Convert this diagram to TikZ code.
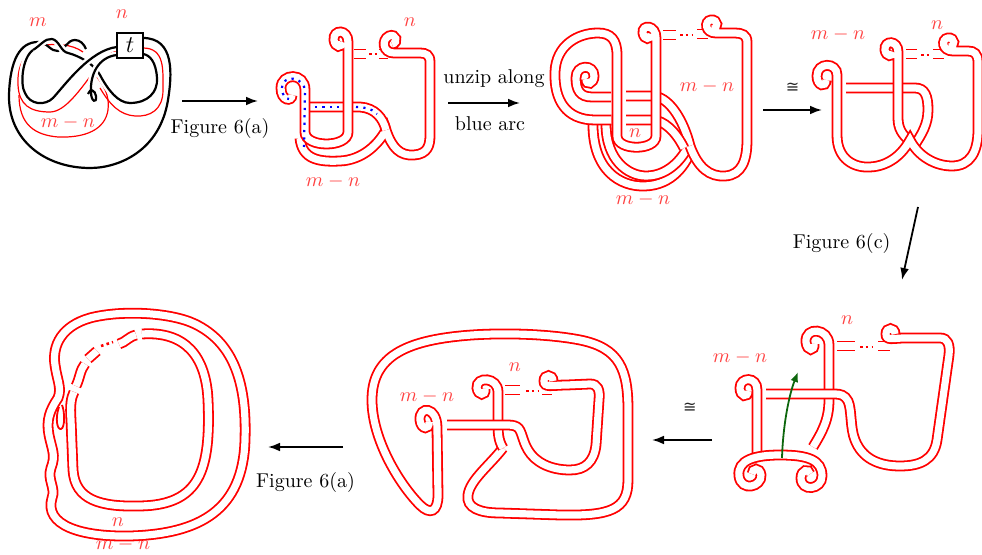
\documentclass[tikz,border=0pt]{standalone}
\usepackage{fontspec}
\usetikzlibrary{arrows.meta,positioning}
\newfontfamily\isofont{DejaVu Sans}
\definecolor{labred}{rgb}{1,0.25,0.25}
\definecolor{arcgreen}{rgb}{0.05,0.4,0.05}
\begin{document}
\begin{tikzpicture}[x=0.5pt, y=-0.5pt,
			band/.style = {draw=red, line width=0.9pt, double=white, double distance=3.6pt},
			strand/.style = {draw=red, line width=0.9pt},
			redline/.style = {draw=red, line width=0.6pt},
			knot/.style = {draw=black, line width=1.1pt},
			overstrand/.style = {preaction={draw=white, line width=3.6pt}},
			lab/.style = {text=labred, inner sep=1pt},
			iso/.style = {font=\isofont\footnotesize, text=black!85},
			arr/.style = {draw=black, line width=0.9pt, -{Latex[length=6pt,width=4.4pt]}},
			ndots/.style = {draw=red, line width=1.3pt, dash pattern=on 1.3pt off 1.6pt},
			bluearc/.style = {draw=blue, line width=1.1pt, dash pattern=on 1.1pt off 2.6pt},
			greenarr/.style = {draw=arcgreen, line width=0.9pt, -{Latex[length=5pt,width=4pt]}}]
			\useasboundingbox (0,0) rectangle (982,555);
			\draw[redline] (40,46) .. controls (25,52) and (17,65) .. (18,85) .. controls (19,105) and (30,112) .. (50,112) .. controls (65,112) and (80,90) .. (95,70) .. controls (102,60) and (110,52) .. (117,51);
			\draw[redline] (19,95) .. controls (19,125) and (35,135) .. (58,137) .. controls (85,138) and (105,130) .. (108,110) .. controls (110,95) and (103,85) .. (97,77);
			\draw[redline] (143,48) .. controls (165,48) and (163,70) .. (163,90) .. controls (163,110) and (150,117) .. (135,116) .. controls (120,115) and (110,105) .. (100,88);
			\draw[redline] (40,46) .. controls (55,43) and (72,44) .. (83,52);
			\draw[knot] (143,38) .. controls (175,38) and (172,75) .. (168,100) .. controls (160,150) and (120,168) .. (90,168) .. controls (45,168) and (8,140) .. (9,95) .. controls (10,60) and (20,42) .. (38,42);
			\draw[knot] (38,42) .. controls (47,42) and (51,52) .. (58,51) .. controls (65,50) and (67,40) .. (75,40) .. controls (80,40) and (84,44) .. (86,49);
			\draw[knot, overstrand] (33,50) .. controls (40,46) and (45,38) .. (52,39) .. controls (59,40) and (61,52) .. (68,53) .. controls (80,56) and (95,65) .. (100,75) .. controls (108,90) and (118,103) .. (130,103) .. controls (148,103) and (158,92) .. (157,78) .. controls (156,62) and (150,55) .. (143,54);
			\draw[knot, overstrand] (33,50) .. controls (22,58) and (20,85) .. (25,93) .. controls (30,105) and (45,106) .. (53,98) .. controls (65,85) and (90,50) .. (117,47);
			\draw[knot, overstrand] (117,55) .. controls (98,57) and (90,75) .. (91,92) .. controls (91,102) and (97,104) .. (96,96) .. controls (95,90) and (90,88) .. (88,94);
			\node[draw, fill=white, line width=0.9pt, minimum width=13pt, minimum height=12.5pt, inner sep=0pt] (tbox) at (130,45.5) {\large $t$};
			\node[lab] (m1) at (38,22) {$m$};
			\node[lab] (n1) at (122,14) {$n$};
			\node[lab] (mn1) at (68,123) {$m-n$};
			\coordinate (p1s) at (182,101);
			\coordinate (p1e) at (258,101);
			\draw[arr] (p1s) -- (p1e) node[midway, below=5pt] (fig1) {Figure 6(a)};
			\draw[band] (354,54) -- (366,54);
			\draw[ndots] (369,54) -- (377,54);
			\draw[band] (379,54) -- (388,54);
			\draw[band] (300,138) .. controls (302,160) and (320,162) .. (340,161) .. controls (362,160) and (378,145) .. (386,130) .. controls (392,148) and (400,156) .. (414,155) .. controls (428,154) and (430,145) .. (430,135) -- (430,62) .. controls (430,55) and (426,53) .. (420,53) -- (394,53) .. controls (383,53) and (381,40) .. (389,36) .. controls (396,33) and (399,43) .. (392,44);
			\draw[band] (307,107) -- (360,107) .. controls (375,108) and (383,118) .. (386,130);
			\draw[band] (292,95) .. controls (292,102) and (281,101) .. (281,88) .. controls (281,73) and (305,72) .. (305,90) -- (305,132) .. controls (305,148) and (348,148) .. (348,132) -- (348,42) .. controls (348,29) and (333,29) .. (334,40) .. controls (335,48) and (342,48) .. (342,42);
			\draw[bluearc] (304,147) -- (305,92) .. controls (305,76) and (282,74) .. (282,88) .. controls (282,96) and (286,99) .. (289,99);
			\draw[bluearc] (315,107) -- (342,107);
			\draw[bluearc] (356,107) .. controls (366,107) and (374,110) .. (377,114);
			\node[lab] (n2) at (410,22) {$n$};
			\node[lab] (mn2) at (333,182) {$m-n$};
			\coordinate (p2s) at (448,103);
			\coordinate (p2e) at (520,103);
			\draw[arr] (p2s) -- (p2e) node[midway, above=4pt, xshift=5pt] (unzip) {unzip along} node[midway, below=3pt, xshift=3pt] (arc) {blue arc};
			\draw[band] (593,122) .. controls (592,170) and (620,187) .. (645,186) .. controls (672,185) and (686,165) .. (692,148);
			\draw[band] (606,124) .. controls (606,160) and (628,176) .. (646,176) .. controls (666,176) and (680,162) .. (688,147);
			\draw[band] (626,96) -- (652,96) .. controls (668,96) and (683,118) .. (690,146);
			\draw[band] (626,120) -- (652,120) .. controls (664,120) and (676,132) .. (684,148);
			\draw[band] (663,35) -- (676,35);
			\draw[ndots] (680,35) -- (692,35);
			\draw[band] (697,34) -- (708,34);
			\draw[band] (690,146) .. controls (698,168) and (710,177) .. (725,176) .. controls (742,175) and (747,160) .. (747,140) -- (747,42) .. controls (747,35) and (742,33) .. (735,33) -- (716,33) .. controls (705,33) and (704,21) .. (711,20) .. controls (718,19) and (719,29) .. (712,29);
			\draw[band] (611,120) -- (595,120) .. controls (566,120) and (554,100) .. (555,72) .. controls (556,45) and (578,33) .. (598,33) .. controls (611,33) and (617,40) .. (617,55) -- (617,136) .. controls (617,151) and (656,151) .. (656,136) -- (656,38) .. controls (656,25) and (642,24) .. (643,33) .. controls (644,40) and (651,40) .. (651,34);
			\draw[band] (611,97) -- (592,97) .. controls (580,97) and (576,90) .. (576,78) .. controls (576,64) and (594,64) .. (594,76) .. controls (594,84) and (586,86) .. (586,79);
			\node[lab] (mn3a) at (707,87) {$m-n$};
			\node[lab] (n3) at (635,133) {$n$};
			\node[lab] (mn3b) at (643,200) {$m-n$};
			\coordinate (p3s) at (763,110);
			\coordinate (p3e) at (822,110);
			\draw[arr] (p3s) -- (p3e) node[midway, above=5pt, iso] (iso1) {≅};
			\draw[band] (906,54) -- (917,54);
			\draw[ndots] (921,55) -- (929,55);
			\draw[band] (933,54) -- (944,54);
			\draw[band] (846,88) -- (915,88) .. controls (925,88) and (928,96) .. (928,110) .. controls (928,124) and (922,134) .. (914,146);
			\draw[band] (910,141) .. controls (902,135) and (898,128) .. (898,118) -- (898,52) .. controls (898,40) and (884,40) .. (885,50) .. controls (886,57) and (893,57) .. (893,52);
			\draw[band] (826,80) .. controls (826,88) and (817,86) .. (817,76) .. controls (817,62) and (837,62) .. (837,75) -- (837,135) .. controls (837,160) and (855,168) .. (870,167) .. controls (890,166) and (903,153) .. (910,140) .. controls (918,156) and (935,166) .. (952,166) .. controls (970,166) and (978,152) .. (978,130) -- (978,62) .. controls (978,54) and (974,51) .. (968,51) -- (953,51) .. controls (942,51) and (941,39) .. (948,38) .. controls (955,37) and (956,47) .. (949,47);
			\node[lab] (mn4) at (838,35) {$m-n$};
			\node[lab] (n4) at (937,25) {$n$};
			\coordinate (p4s) at (918,207);
			\coordinate (p4e) at (902,280);
			\draw[arr] (p4s) -- (p4e) node[midway, left=6pt] (fig2) {Figure 6(c)};
			\draw[band] (813,447) .. controls (822,432) and (829,420) .. (829,400) -- (829,345) .. controls (829,328) and (805,326) .. (806,342) .. controls (807,352) and (815,351) .. (814,344);
			\draw[band] (837,346) -- (855,346);
			\draw[ndots] (860,347) -- (873,347);
			\draw[band] (878,346) -- (890,346);
			\draw[band] (895,334) .. controls (895,327) and (886,327) .. (886,334) .. controls (886,341) and (893,338) .. (905,338) -- (940,338) .. controls (948,338) and (950,345) .. (949,355) -- (937,440) .. controls (934,460) and (920,466) .. (900,466) .. controls (878,466) and (862,458) .. (855,440) .. controls (850,428) and (852,410) .. (848,401) .. controls (845,395) and (840,394) .. (835,394) -- (766,394);
			\draw[band] (748,391) .. controls (748,398) and (740,397) .. (740,388) .. controls (740,377) and (757,376) .. (757,390) -- (757,457);
			\draw[band] (752,474) .. controls (752,468) and (760,467) .. (761,475) .. controls (762,487) and (741,492) .. (739,476) .. controls (737,460) and (755,455) .. (780,455) .. controls (808,455) and (822,460) .. (822,476) .. controls (822,490) and (801,492) .. (801,478) .. controls (801,470) and (809,468) .. (810,474);
			\coordinate (g1) at (782,458);
			\coordinate (g2) at (798,372);
			\draw[greenarr] (g1) .. controls (783,425) and (789,395) .. (g2);
			\node[lab] (mn5) at (740,358) {$m-n$};
			\node[lab] (n5) at (847,320) {$n$};
			\coordinate (p5s) at (712,440);
			\coordinate (p5e) at (652,440);
			\draw[arr] (p5s) -- (p5e) node[pos=0.37, above=10pt, iso] (iso2) {≅};
			\draw[band] (503,448) .. controls (490,465) and (470,480) .. (468,495) .. controls (466,508) and (480,513) .. (500,513) -- (560,515) .. controls (610,516) and (628,510) .. (628,480) -- (628,410) .. controls (628,370) and (620,348) .. (580,340) .. controls (550,334) and (500,332) .. (460,336) .. controls (400,342) and (372,360) .. (372,400) .. controls (372,440) and (400,485) .. (420,505) .. controls (430,515) and (438,512) .. (438,495) -- (437,428) .. controls (437,406) and (419,406) .. (420,420) .. controls (421,430) and (430,430) .. (429,422);
			\draw[band] (503,448) .. controls (498,440) and (498,432) .. (498,420) -- (498,392) .. controls (498,377) and (476,376) .. (477,388) .. controls (478,396) and (486,396) .. (485,389);
			\draw[band] (505,390) -- (520,390);
			\draw[ndots] (526,391) -- (538,391);
			\draw[band] (542,390) -- (552,390);
			\draw[band] (553,381) .. controls (553,374) and (544,374) .. (544,381) .. controls (544,388) and (552,385) .. (567,385) -- (590,384) .. controls (598,384) and (600,390) .. (599,400) -- (596,445) .. controls (594,462) and (585,470) .. (570,470) .. controls (550,470) and (535,462) .. (528,450) .. controls (522,440) and (522,430) .. (517,427) .. controls (514,425) and (510,425) .. (505,425) -- (447,425);
			\node[lab] (mn6) at (427,397) {$m-n$};
			\node[lab] (n6) at (515,367) {$n$};
			\coordinate (p6s) at (343,447);
			\coordinate (p6e) at (268,447);
			\draw[arr] (p6s) -- (p6e) node[midway, below=9pt] (fig3) {Figure 6(a)};
			\draw[band] (52,498) .. controls (44,525) and (80,537) .. (130,536) .. controls (200,534) and (243,510) .. (245,440) .. controls (247,380) and (232,342) .. (195,324) .. controls (170,312) and (120,310) .. (90,318) .. controls (62,326) and (52,345) .. (55,365) .. controls (57,380) and (62,388) .. (58,398) .. controls (50,410) and (46,420) .. (49,435) .. controls (52,450) and (56,455) .. (51,468) .. controls (47,480) and (56,488) .. (52,498);
			\draw[band] (142,334) .. controls (185,331) and (206,356) .. (208,400) .. controls (211,470) and (200,505) .. (140,506) .. controls (100,507) and (75,500) .. (73,470) -- (71,420) .. controls (70,405) and (71,398) .. (74,392);
			\draw[band] (76,386) .. controls (80,378) and (80,370) .. (85,364);
			\draw[band] (88,359) -- (97,351);
			\draw[ndots] (101,346) -- (113,342);
			\draw[band] (119,344) .. controls (126,342) and (128,337) .. (136,335);
			\draw[strand] (59,407) .. controls (55,418) and (57,430) .. (61,429) .. controls (65,428) and (65,412) .. (62,405);
			\node[lab] (n7) at (118,522) {$n$};
			\node[lab] (mn7) at (123,545) {$m-n$};
		\end{tikzpicture}
\end{document}
